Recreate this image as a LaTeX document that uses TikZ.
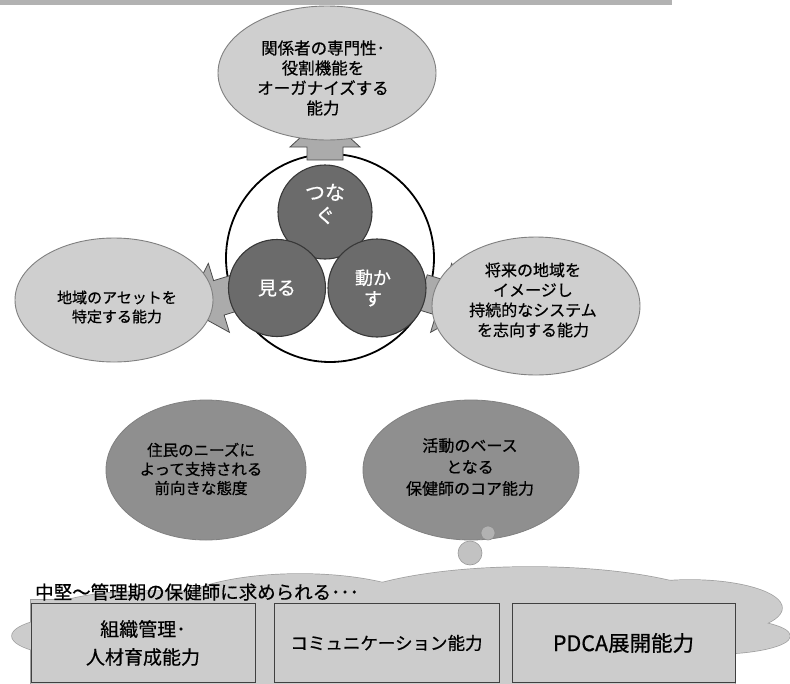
\documentclass[tikz,border=0pt]{standalone}
\usepackage{fontspec}
\setmainfont{Noto Sans CJK JP}[FakeBold=0.6]
\usetikzlibrary{shapes.geometric}
\begin{document}
\begin{tikzpicture}[x=1pt,y=-1pt,
  lightell/.style={ellipse, draw=black!50, line width=0.9pt, fill=black!19, inner sep=0pt},
  darkell/.style={ellipse, draw=black!50, line width=0.8pt, fill=black!44, inner sep=0pt},
  darkcirc/.style={circle, draw=black!78, line width=1.1pt, fill=black!58, inner sep=0pt, minimum size=96pt},
  arrowbody/.style={fill=black!33, draw=black!70, line width=0.8pt, line join=miter},
  ctext/.style={align=center, inner sep=0pt, text=black},
  wtext/.style={align=center, inner sep=0pt, text=white},
  boxstyle/.style={rectangle, draw=black!75, line width=0.8pt, inner sep=0pt, align=center},
  cloudc/.style={fill=black!20},
  cloudedge/.style={draw=black!38, line width=1.4pt}
]
\useasboundingbox (0,0) rectangle (790,683);
\fill[white] (0,0) rectangle (790,683);
% top band
\fill[black!30] (0,0) rectangle (672,5);

% outer ring
\node[circle, draw=black, line width=1.8pt, fill=white, minimum size=208pt, inner sep=0pt] (ring) at (330,258) {};

% arrows
\begin{scope}[shift={(325,160)}, rotate=90]
  \path[arrowbody] (0,-18) -- (13,-18) -- (13,-35) -- (45,0) -- (13,35) -- (13,18) -- (0,18) -- cycle;
\end{scope}
\begin{scope}[shift={(238,292)}, rotate=197]
  \path[arrowbody] (0,-18) -- (20,-18) -- (20,-36) -- (55,0) -- (20,36) -- (20,18) -- (0,18) -- cycle;
\end{scope}
\begin{scope}[shift={(422,292)}, rotate=-17]
  \path[arrowbody] (0,-18) -- (20,-18) -- (20,-36) -- (55,0) -- (20,36) -- (20,18) -- (0,18) -- cycle;
\end{scope}

% inner dark circles
\node[darkcirc, minimum size=94pt] (tsunagu) at (325,212) {};
\node[darkcirc, minimum size=97pt] (miru) at (277,288) {};
\node[darkcirc, minimum size=98pt] (ugokasu) at (377,288) {};
\node[wtext, font=\fontsize{20}{23}\selectfont] (tsunagut) at (325,204) {つな\\ぐ};
\node[wtext, font=\fontsize{19}{21}\selectfont] (mirut) at (277,288) {見る};
\node[wtext, font=\fontsize{18}{21}\selectfont] (ugokasut) at (373,288) {動か\\す};

% light ellipses
\node[lightell, minimum width=218pt, minimum height=134pt] (top) at (327,73) {};
\node[lightell, minimum width=198pt, minimum height=124pt] (left) at (114,300) {};
\node[lightell, minimum width=208pt, minimum height=138pt] (right) at (536,306) {};
\node[ctext, font=\fontsize{16.5}{20}\selectfont] (topt) at (323,78) {関係者の専門性･\\役割機能を\\オーガナイズする\\能力};
\node[ctext, font=\fontsize{15}{19}\selectfont] (leftt) at (117,307) {地域のアセットを\\特定する能力};
\node[ctext, font=\fontsize{16}{20}\selectfont] (rightt) at (533,300) {将来の地域を\\イメージし\\持続的なシステム\\を志向する能力};

% bottom dark ellipses
\node[darkell, minimum width=200pt, minimum height=140pt] (bl) at (206,470) {};
\node[darkell, minimum width=216pt, minimum height=140pt] (br) at (471,470) {};
\node[ctext, font=\fontsize{15.5}{19}\selectfont] (blt) at (201,469) {住民のニーズに\\よって支持される\\前向きな態度};
\node[ctext, font=\fontsize{16}{21.5}\selectfont] (brt) at (470,467) {活動のベース\\となる\\保健師のコア能力};

% cloud: outline pass then fill pass
\foreach \st in {cloudedge, cloudc}{
  \path[\st] (31,600) rectangle (735,690);
  \path[\st] (530,615) ellipse [x radius=200, y radius=48];
  \path[\st] (300,612) ellipse [x radius=130, y radius=38];
  \path[\st] (150,617) ellipse [x radius=110, y radius=26];
  \path[\st] (100,636) ellipse [x radius=88, y radius=22];
  \path[\st] (690,608) ellipse [x radius=92, y radius=28];
  \path[\st] (712,636) ellipse [x radius=78, y radius=18];
}
% thought bubbles
\node[circle, fill=black!24, draw=black!40, line width=0.6pt, minimum size=24pt, inner sep=0pt] (b2) at (470,553) {};
\node[circle, fill=black!30, draw=black!45, line width=0.6pt, minimum size=14pt, inner sep=0pt] (b1) at (488,533) {};

\node[anchor=west, inner sep=0pt, font=\fontsize{18.5}{21}\selectfont] (hdr) at (35,592) {中堅～管理期の保健師に求められる･･･};

% boxes
\node[boxstyle, minimum width=224pt, minimum height=79pt, font=\fontsize{19}{28}\selectfont] (box1) at (143,643) {組織管理･\\人材育成能力};
\node[boxstyle, minimum width=225pt, minimum height=79pt, font=\fontsize{17.5}{21}\selectfont] (box2) at (386.5,643) {コミュニケーション能力};
\node[boxstyle, minimum width=223pt, minimum height=79pt, font=\fontsize{21.5}{24}\selectfont] (box3) at (623.5,643) {PDCA展開能力};
\end{tikzpicture}
\end{document}
